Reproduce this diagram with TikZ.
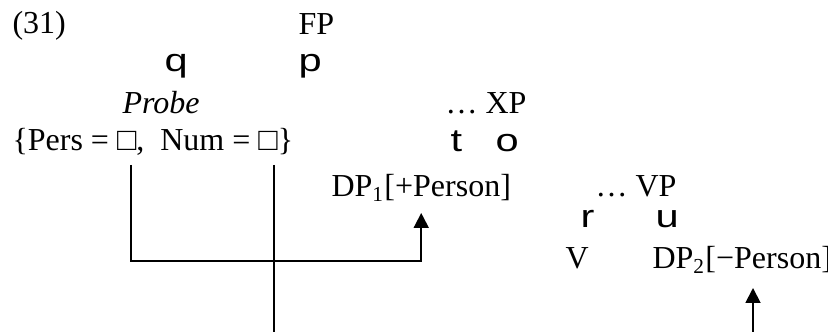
\documentclass[tikz,border=0pt]{standalone}
\usepackage{fontspec}
\setmainfont{Liberation Serif}
\newfontfamily\branchfont[FakeStretch=1.3]{Liberation Sans}
\usetikzlibrary{arrows.meta}
\newcommand{\emptyslot}{□}

\begin{document}
\begin{tikzpicture}[x=0.375pt,y=-0.375pt,
  every node/.style={inner sep=0pt,anchor=base west,font=\fontsize{12}{14}\selectfont},
  branch/.style={font=\fontsize{12}{14}\selectfont\branchfont},
  link/.style={line width=0.7pt},
  agree/.style={line width=0.7pt,-{Triangle[width=5.6pt,length=5.6pt]}}]
\useasboundingbox (0,0) rectangle (828,332);

% Example number and root
\node (exnum) at (12,34) {(31)};
\node (fp) at (298,35) {FP};
\node[branch] (fpleft) at (164,72) {q};
\node[branch] (fpright) at (298,72) {p};

% Probe with unvalued features
\node (probe) at (122,114) {\textit{Probe}};
\node (feats) at (12,151) {\{Pers = \emptyslot,\ \ Num = \emptyslot\}};

% XP
\node (xp) at (445,114) {… XP};
\node[branch] (xpleft) at (450,152) {t};
\node[branch] (xpright) at (495,152) {o};
\node (dpone) at (331,197) {DP\textsubscript{1}[+Person]};

% VP
\node (vp) at (595,197) {… VP};
\node[branch] (vpleft) at (580,228) {r};
\node[branch] (vpright) at (655,228) {u};
\node (verb) at (565,269) {V};
\node (dptwo) at (652,269) {DP\textsubscript{2}[−Person]};

% Agree lines
\coordinate (persfoot) at (131,165);
\coordinate (numfoot) at (274,165);
\coordinate (numend) at (274,332);
\coordinate (dptwohit) at (753,288);
\coordinate (dptwoend) at (753,332);
\draw[agree] (persfoot) -- ++(0,96) -| ([yshift=-4pt]dpone.south);
\draw[link] (numfoot) -- (numend);
\draw[agree] (dptwoend) -- (dptwohit);
\end{tikzpicture}
\end{document}
